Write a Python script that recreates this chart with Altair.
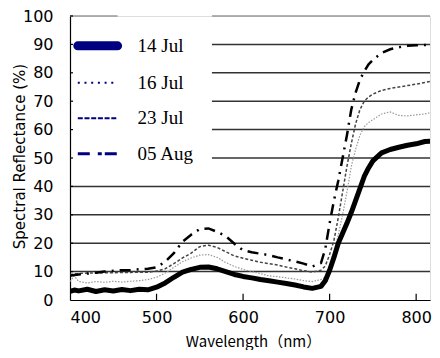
import altair as alt
import pandas as pd

# Wavelengths (nm)
wavelength = [400, 405, 410, 420, 430, 440, 450, 460, 470, 480, 490, 500, 510, 520, 530, 540,
              550, 560, 570, 580, 590, 600, 610, 620, 630, 640, 650, 660, 670, 680, 690, 695,
              700, 705, 710, 715, 720, 725, 730, 735, 740, 745, 750, 760, 770, 780, 790, 800,
              810, 820, 825]

jul14 = [3.0, 3.5, 3.2, 3.8, 3.0, 3.6, 3.2, 3.7, 3.3, 3.8, 3.6, 4.5, 6.0, 8.0, 9.8, 10.8,
         11.5, 11.6, 11.0, 10.0, 9.0, 8.3, 7.8, 7.2, 6.8, 6.3, 5.8, 5.3, 4.6, 4.1, 4.8, 6.8,
         10.5, 15.0, 20.0, 23.5, 27.0, 30.8, 35.0, 39.2, 43.5, 46.5, 49.0, 51.8, 53.0, 53.8, 54.5, 55.0,
         55.8, 56.0, 55.5]

jul16 = [6.5, 8.5, 6.5, 6.0, 6.5, 6.2, 6.6, 6.3, 6.6, 6.8, 7.2, 8.0, 9.5, 11.5, 13.5, 14.8,
         15.8, 16.0, 15.0, 13.2, 11.8, 10.8, 10.0, 9.3, 8.5, 8.2, 7.8, 7.4, 6.8, 6.5, 7.2, 8.0,
         10.0, 16.0, 23.0, 30.0, 38.0, 47.0, 53.0, 58.0, 61.0, 62.5, 63.5, 65.5, 66.2, 65.0, 64.8, 65.2,
         65.5, 66.2, 65.8]

jul23 = [9.0, 9.1, 9.3, 9.5, 9.5, 9.6, 9.6, 9.7, 9.7, 9.8, 9.8, 10.2, 11.0, 12.8, 14.8, 16.5,
         18.8, 19.3, 18.5, 17.0, 15.5, 14.7, 14.0, 13.3, 12.8, 12.3, 11.6, 11.0, 10.3, 9.8, 10.5, 12.0,
         16.0, 21.0, 29.0, 38.0, 47.0, 55.0, 62.0, 67.0, 70.0, 71.5, 72.5, 73.8, 74.5, 75.0, 75.5, 76.0,
         76.6, 77.2, 77.5]

aug05 = [8.5, 8.8, 9.0, 9.3, 9.6, 10.0, 10.3, 10.5, 10.6, 10.8, 11.0, 11.5, 13.5, 16.5, 20.5, 23.0,
         25.0, 25.2, 24.0, 22.5, 19.8, 17.5, 16.8, 16.3, 15.8, 15.0, 14.3, 13.6, 12.8, 11.8, 13.0, 18.0,
         27.0, 35.0, 42.0, 50.0, 58.0, 67.0, 73.0, 77.5, 80.5, 83.0, 84.5, 87.0, 88.3, 89.0, 89.5, 89.7,
         89.8, 90.0, 90.0]

series_names = ["14 Jul", "16 Jul", "23 Jul", "05 Aug"]
legend_y = [89.5, 76.5, 64, 51.5]

x_ticks = [400, 500, 600, 700, 800]
y_ticks = [0, 10, 20, 30, 40, 50, 60, 70, 80, 90, 100]

X_END = 816

# horizontal gridlines (value, start, end) — the legend box hides part of the upper lines
grid_y = [10, 20, 30, 40, 50, 60, 70, 80, 90]
grid_x1 = [400, 400, 400, 400, 564, 564, 564, 564, 564]
top_x1 = [400, 564]
top_x2 = [455, X_END]

df = pd.DataFrame({"wl": wavelength, "14 Jul": jul14, "16 Jul": jul16,
                   "23 Jul": jul23, "05 Aug": aug05})
grid_df = pd.DataFrame({"y": grid_y, "x1": grid_x1, "x2": [X_END] * len(grid_y)})
top_df = pd.DataFrame({"y": [100, 100], "x1": top_x1, "x2": top_x2})
xtick_df = pd.DataFrame({"x": x_ticks[1:], "y1": [0] * 4, "y2": [2.2] * 4})
ytick_df = pd.DataFrame({"y": y_ticks[1:], "x1": [400] * 10, "x2": [403.5] * 10})
leg_df = pd.DataFrame({"name": series_names, "y": legend_y})

xs = alt.Scale(domain=[400, X_END], nice=False, zero=False)
ys = alt.Scale(domain=[0, 100], nice=False)

X_axis = alt.Axis(values=x_ticks, title="Wavelength（nm）", grid=False, ticks=False,
                  labelPadding=9, domainColor="#000", domainWidth=1.2,
                  labelFont="DejaVu Sans", labelFontSize=16, labelColor="#000",
                  titleFont="Noto Sans CJK JP", titleFontSize=15, titleFontWeight="normal",
                  titleColor="#000", titleBaseline="alphabetic", titleY=46, titleX=183)
Y_axis = alt.Axis(values=y_ticks, title="Spectral Reflectance (%)", grid=False, ticks=False,
                  labelPadding=17, domainColor="#000", domainWidth=1.2,
                  labelFont="DejaVu Sans", labelFontSize=16, labelColor="#000",
                  titleFont="DejaVu Sans", titleFontSize=15, titleFontWeight="normal",
                  titleColor="#000", titleBaseline="middle", titleX=-51, titleY=140,
                  titleAngle=270)


def XE(field):
    return alt.X(field, scale=xs, axis=X_axis)


def YE(field):
    return alt.Y(field, scale=ys, axis=Y_axis)


grid = alt.Chart(grid_df).mark_rule(color="#333", strokeWidth=1.5).encode(
    x=XE("x1:Q"), x2="x2:Q", y=YE("y:Q"))
top = alt.Chart(top_df).mark_rule(color="#999", strokeWidth=1.5).encode(
    x=XE("x1:Q"), x2="x2:Q", y=YE("y:Q"))

xticks = alt.Chart(xtick_df).mark_rule(color="#000", strokeWidth=1.2).encode(
    x=XE("x:Q"), y=YE("y1:Q"), y2="y2:Q")
yticks = alt.Chart(ytick_df).mark_rule(color="#000", strokeWidth=1.2).encode(
    x=XE("x1:Q"), x2="x2:Q", y=YE("y:Q"))


def line(col, **kw):
    return alt.Chart(df).mark_line(clip=True, **kw).encode(
        x=XE("wl:Q"), y=YE(f"{col}:Q"))


l14 = line("14 Jul", color="#000", strokeWidth=5, strokeCap="round", strokeJoin="round")
l16 = line("16 Jul", color="#999", strokeWidth=1.2, strokeDash=[1.5, 1.5])
l23 = line("23 Jul", color="#444", strokeWidth=1.5, strokeDash=[3, 2])
l05 = line("05 Aug", color="#000", strokeWidth=2.5, strokeDash=[11, 6, 2, 6])


def leg_line(name, **kw):
    return alt.Chart(leg_df).transform_filter(alt.datum.name == name).transform_calculate(
        x1="409", x2="455").mark_rule(color="#000080", **kw).encode(
        x=XE("x1:Q"), x2="x2:Q", y=YE("y:Q"))


lg14 = leg_line("14 Jul", strokeWidth=9, strokeCap="round")
lg16 = leg_line("16 Jul", strokeWidth=2, strokeDash=[2, 4.7])
lg23 = leg_line("23 Jul", strokeWidth=2.2, strokeDash=[5, 1.7])
lg05 = leg_line("05 Aug", strokeWidth=3, strokeDash=[12, 8, 4, 3])

leg_text = alt.Chart(leg_df).transform_calculate(tx="478").mark_text(
    align="left", baseline="middle", font="Liberation Serif", fontSize=19, color="#000").encode(
    x=XE("tx:Q"), y=YE("y:Q"), text="name:N")

chart = alt.layer(grid, top, xticks, yticks, l16, l23, l05, l14,
                  lg14, lg16, lg23, lg05, leg_text).properties(
    width=360, height=284,
    autosize=alt.AutoSizeParams(type="none"),
    padding={"left": 62, "top": 8, "right": 2, "bottom": 50},
).configure_view(stroke=None).configure(background="white")

chart.save("out.html", embed_options={"renderer": "svg", "actions": False})
